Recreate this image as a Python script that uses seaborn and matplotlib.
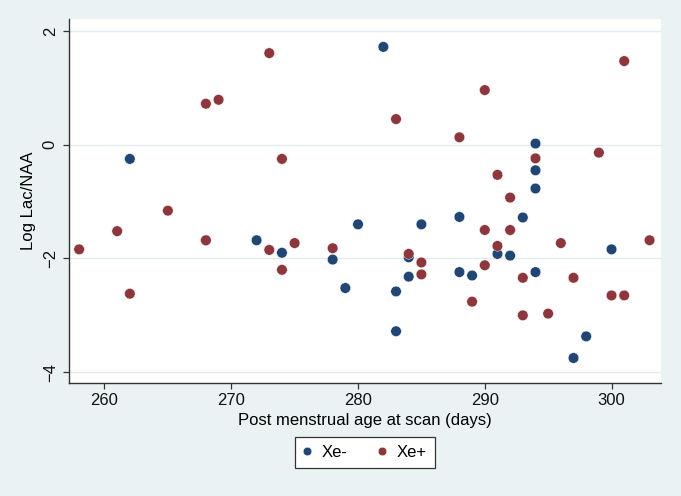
import numpy as np
import pandas as pd
import seaborn as sns
import matplotlib.pyplot as plt

# Xe- group
xe_neg_age = [262, 268, 272, 274, 278, 279, 280, 282, 283, 283, 284, 284, 285,
              288, 288, 289, 291, 292, 293, 294, 294, 294, 294, 297, 298, 300]
xe_neg_lac = [-0.25, -1.68, -1.68, -1.90, -2.02, -2.52, -1.40, 1.72, -2.58, -3.28,
              -2.32, -1.98, -1.40, -1.27, -2.24, -2.30, -1.92, -1.95, -1.28,
              0.02, -0.45, -0.77, -2.24, -3.75, -3.37, -1.84]

# Xe+ group
xe_pos_age = [258, 261, 262, 265, 268, 268, 269, 273, 273, 274, 274, 275, 278,
              283, 284, 285, 285, 288, 289, 290, 290, 290, 291, 291, 292, 292,
              293, 293, 294, 295, 296, 297, 299, 300, 301, 301, 303]
xe_pos_lac = [-1.84, -1.52, -2.62, -1.16, 0.72, -1.68, 0.79, 1.61, -1.85, -0.25,
              -2.20, -1.73, -1.82, 0.45, -1.92, -2.07, -2.28, 0.13, -2.76, 0.96,
              -1.50, -2.12, -0.53, -1.78, -0.93, -1.50, -2.34, -3.00, -0.24,
              -2.97, -1.73, -2.34, -0.14, -2.65, -2.65, 1.47, -1.68]

groups = ["Xe-", "Xe+"]
colors = {"Xe-": "#1f4674", "Xe+": "#8e363c"}

df = pd.DataFrame({
    "age": xe_neg_age + xe_pos_age,
    "lac": xe_neg_lac + xe_pos_lac,
    "group": ["Xe-"] * len(xe_neg_age) + ["Xe+"] * len(xe_pos_age),
})

bg = "#eaf2f3"
plt.rcParams["font.family"] = ["Liberation Sans", "DejaVu Sans"]
plt.rcParams["font.size"] = 12

fig = plt.figure(figsize=(6.81, 4.96), dpi=100, facecolor=bg)
ax = fig.add_axes([0.1013, 0.2278, 0.8693, 0.7339])
ax.set_facecolor("white")

sns.scatterplot(data=df, x="age", y="lac", hue="group", hue_order=groups,
                palette=colors, s=58, edgecolor="white", linewidth=0.3,
                alpha=1, ax=ax, zorder=3)

ax.set_xlim(257.2, 303.9)
ax.set_ylim(-4.19, 2.21)
ax.set_xticks([260, 270, 280, 290, 300])
ax.set_yticks([-4, -2, 0, 2])
ax.grid(axis="y", color="#e1ebed", linewidth=1.0, zorder=0)
ax.grid(axis="x", visible=False)

for side in ["top", "right"]:
    ax.spines[side].set_visible(False)
for side in ["left", "bottom"]:
    ax.spines[side].set_color("#333333")
    ax.spines[side].set_linewidth(1.0)

ax.tick_params(axis="both", direction="out", length=4.5, width=0.9,
               color="#333333", labelsize=12, labelcolor="#111111")
ax.tick_params(axis="x", pad=3)
plt.setp(ax.get_yticklabels(), rotation=90, va="center")

ax.set_xlabel("Post menstrual age at scan (days)", fontsize=12, labelpad=3)
ax.set_ylabel("Log Lac/NAA", fontsize=12, labelpad=4)
ax.yaxis.set_label_coords(-0.055, 0.5)

handles, labels = ax.get_legend_handles_labels()
ax.get_legend().remove()
leg = fig.legend(handles, labels, loc="center", bbox_to_anchor=(0.536, 0.0875),
                 ncol=2, frameon=True, fancybox=False, edgecolor="#333333",
                 facecolor="white", framealpha=1, fontsize=12,
                 handlelength=0.5, handletextpad=0.6, columnspacing=1.85,
                 borderpad=0.5, markerscale=0.8)
leg.get_frame().set_linewidth(0.9)

fig.savefig("out.png", dpi=100, facecolor=bg)
